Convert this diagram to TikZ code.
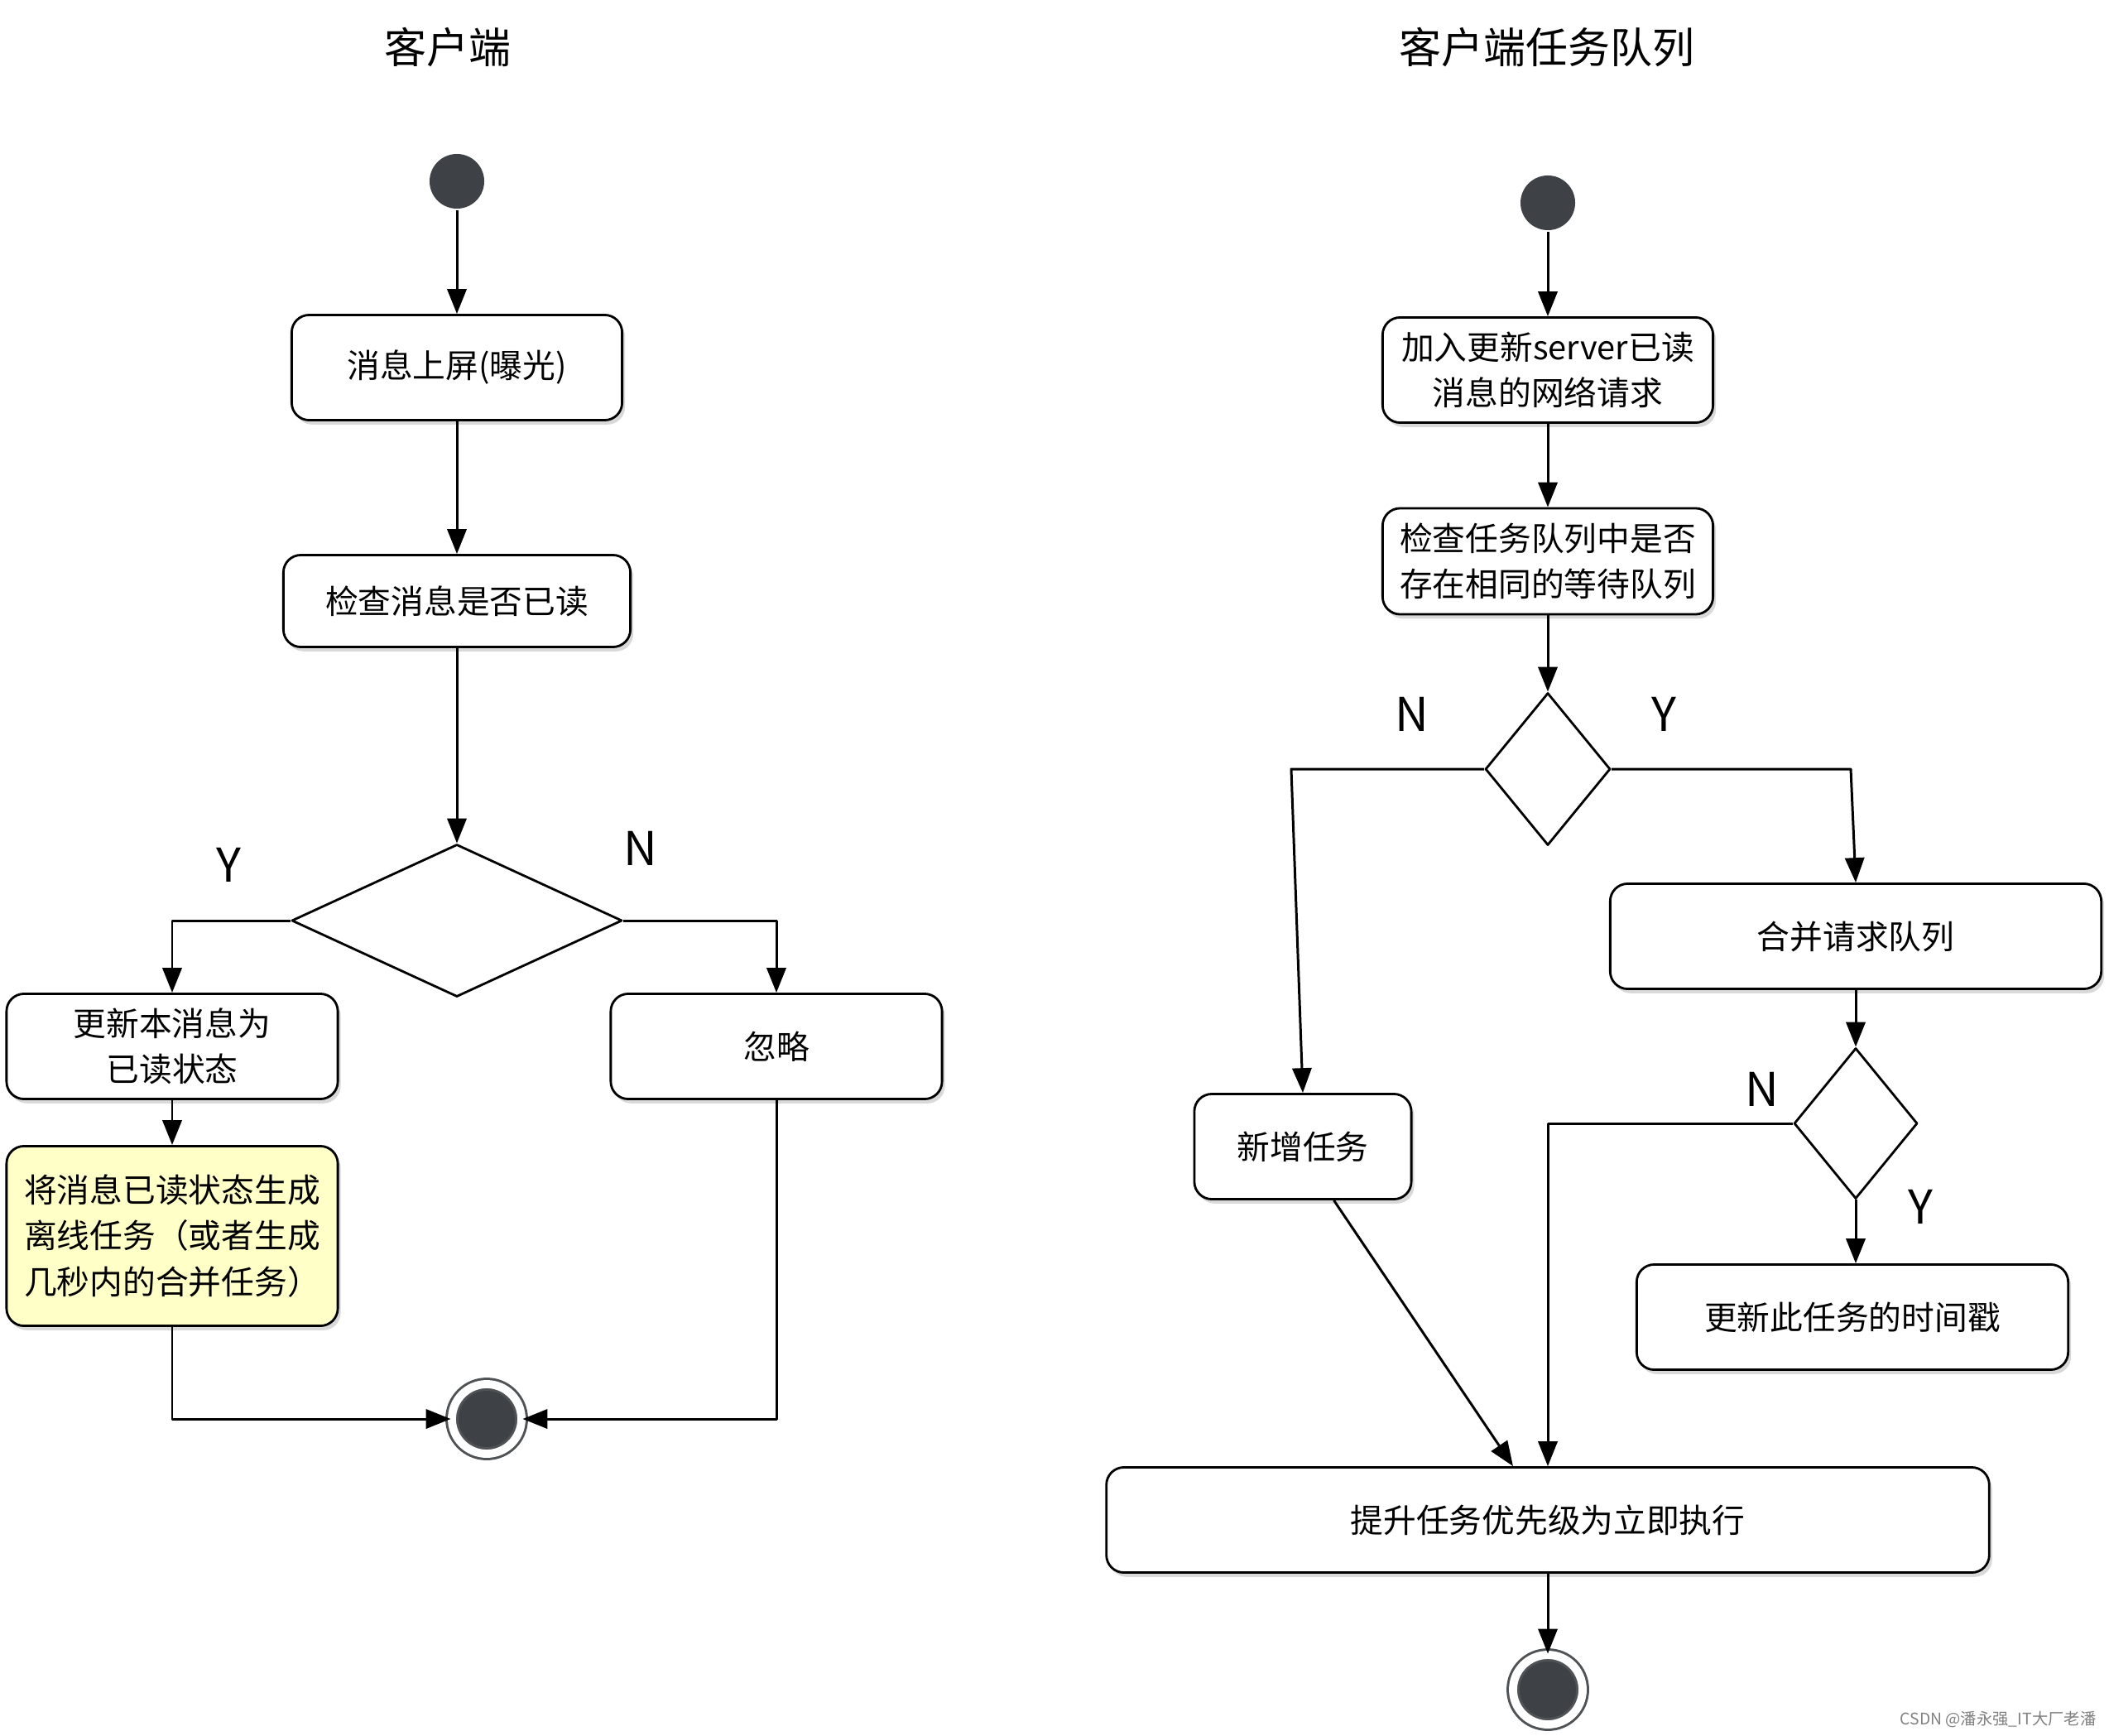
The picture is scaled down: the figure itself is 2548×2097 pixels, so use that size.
\documentclass[tikz,border=0pt]{standalone}
\usepackage{fontspec}
\setmainfont{Noto Sans CJK SC}
\usetikzlibrary{shapes.geometric,arrows.meta,shadows}

\definecolor{dotgray}{RGB}{62,65,69}
\definecolor{ringgray}{RGB}{80,83,86}
\definecolor{notefill}{RGB}{255,255,200}

\tikzset{
  box/.style={draw,rounded corners=6pt,line width=0.8pt,fill=white,minimum height=1.27cm,
    align=center,inner sep=2pt,font=\fontsize{11.3}{15.8}\selectfont,
    drop shadow={shadow xshift=1pt,shadow yshift=-1.5pt,fill=black,opacity=0.15}},
  note/.style={fill=notefill,align=left},
  choice/.style={diamond,draw,line width=0.8pt,inner sep=0pt,fill=white},
  startdot/.style={circle,fill=dotgray,minimum size=0.66cm,inner sep=0pt},
  enddot/.style={circle,draw=ringgray,fill=dotgray,line width=0.85pt,double=white,
    double distance=2.8pt,minimum size=0.84cm,inner sep=0pt},
  yn/.style={font=\fontsize{16}{18}\selectfont},
  heading/.style={font=\fontsize{14.5}{17}\selectfont},
}

\begin{document}
\begin{tikzpicture}[x=0.01cm,y=-0.01cm,every path/.style={line join=round},
    >={Triangle[length=8.5pt,width=6.6pt]},line width=0.85pt]
  \useasboundingbox (0,0) rectangle (2548,2097);
  \node[heading] (lefttitle) at (541,57) {客户端};
  \node[heading] (righttitle) at (1869,57) {客户端任务队列};

  % client side
  \node[startdot] (lstart) at (552,219) {};
  \node[box,minimum width=3.99cm] (lshow) at (552,444) {消息上屏(曝光)};
  \node[box,minimum width=4.19cm,minimum height=1.11cm] (lcheck) at (552,726) {检查消息是否已读};
  \node[choice,minimum width=3.99cm,minimum height=1.84cm] (lchoice) at (552,1112) {};
  \node[box,minimum width=4cm] (lmark) at (208,1264) {更新本消息为\\已读状态};
  \node[box,minimum width=4cm] (lignore) at (938,1264) {忽略};
  \node[box,note,minimum width=4cm,minimum height=2.17cm] (ltask) at (208,1493)
    {将消息已读状态生成\\离线任务（或者生成\\几秒内的合并任务）};
  \node[enddot] (lend) at (588,1714) {};
  \node[yn] (ly) at (276,1045) {Y};
  \node[yn] (ln) at (774,1025) {N};

  \draw[->] (lstart) -- (lshow);
  \draw[->] (lshow) -- (lcheck);
  \draw[->] (lcheck) -- (lchoice);
  \draw[->] (lchoice.west) -| (lmark);
  \draw[->] (lchoice.east) -| (lignore);
  \draw[->] (lmark) -- (ltask);
  \draw[->] (ltask) |- (lend);
  \draw[->] (lignore) |- (lend);

  % task queue side
  \node[startdot] (rstart) at (1870,245) {};
  \node[box,minimum width=3.99cm] (rrequest) at (1870,447) {加入更新server已读\\消息的网络请求};
  \node[box,minimum width=3.99cm,minimum height=1.28cm] (rcheck) at (1870,678) {检查任务队列中是否\\存在相同的等待队列};
  \node[choice,minimum width=1.51cm,minimum height=1.84cm] (rchoice) at (1870,929) {};
  \node[box,minimum width=5.93cm] (rmerge) at (2242,1131) {合并请求队列};
  \node[box,minimum width=2.62cm] (rnew) at (1574,1385) {新增任务};
  \node[choice,minimum width=1.49cm,minimum height=1.82cm] (rmergechoice) at (2242,1357) {};
  \node[box,minimum width=5.21cm] (rstamp) at (2238,1591) {更新此任务的时间戳};
  \node[box,minimum width=10.66cm] (rraise) at (1870,1836) {提升任务优先级为立即执行};
  \node[enddot] (rend) at (1870,2041) {};
  \node[yn] (rn) at (1706,863) {N};
  \node[yn] (ry) at (2010,863) {Y};
  \node[yn] (rmn) at (2129,1316) {N};
  \node[yn] (rmy) at (2320,1458) {Y};
  \coordinate (rnbend) at (1560,929);
  \coordinate (rybend) at (2236,929);

  \draw[->] (rstart) -- (rrequest);
  \draw[->] (rrequest) -- (rcheck);
  \draw[->] (rcheck) -- (rchoice);
  \draw[->] (rchoice.west) -- (rnbend) -- (rnew.north);
  \draw[->] (rchoice.east) -- (rybend) -- (rmerge.north);
  \draw[->] (rmerge) -- (rmergechoice);
  \draw[->] (rmergechoice.west) -| (rraise.north);
  \draw[->] (rmergechoice.south) -- (rmergechoice.south |- rstamp.north);
  \draw[->] (rnew.-60) -- ([xshift=-0.42cm]rraise.north);
  \draw[->] (rraise) -- (rend);

  \node[text=gray,font=\fontsize{5.5}{6}\selectfont] (credit) at (2414,2077) {CSDN @潘永强\_IT大厂老潘};
\end{tikzpicture}
\end{document}
